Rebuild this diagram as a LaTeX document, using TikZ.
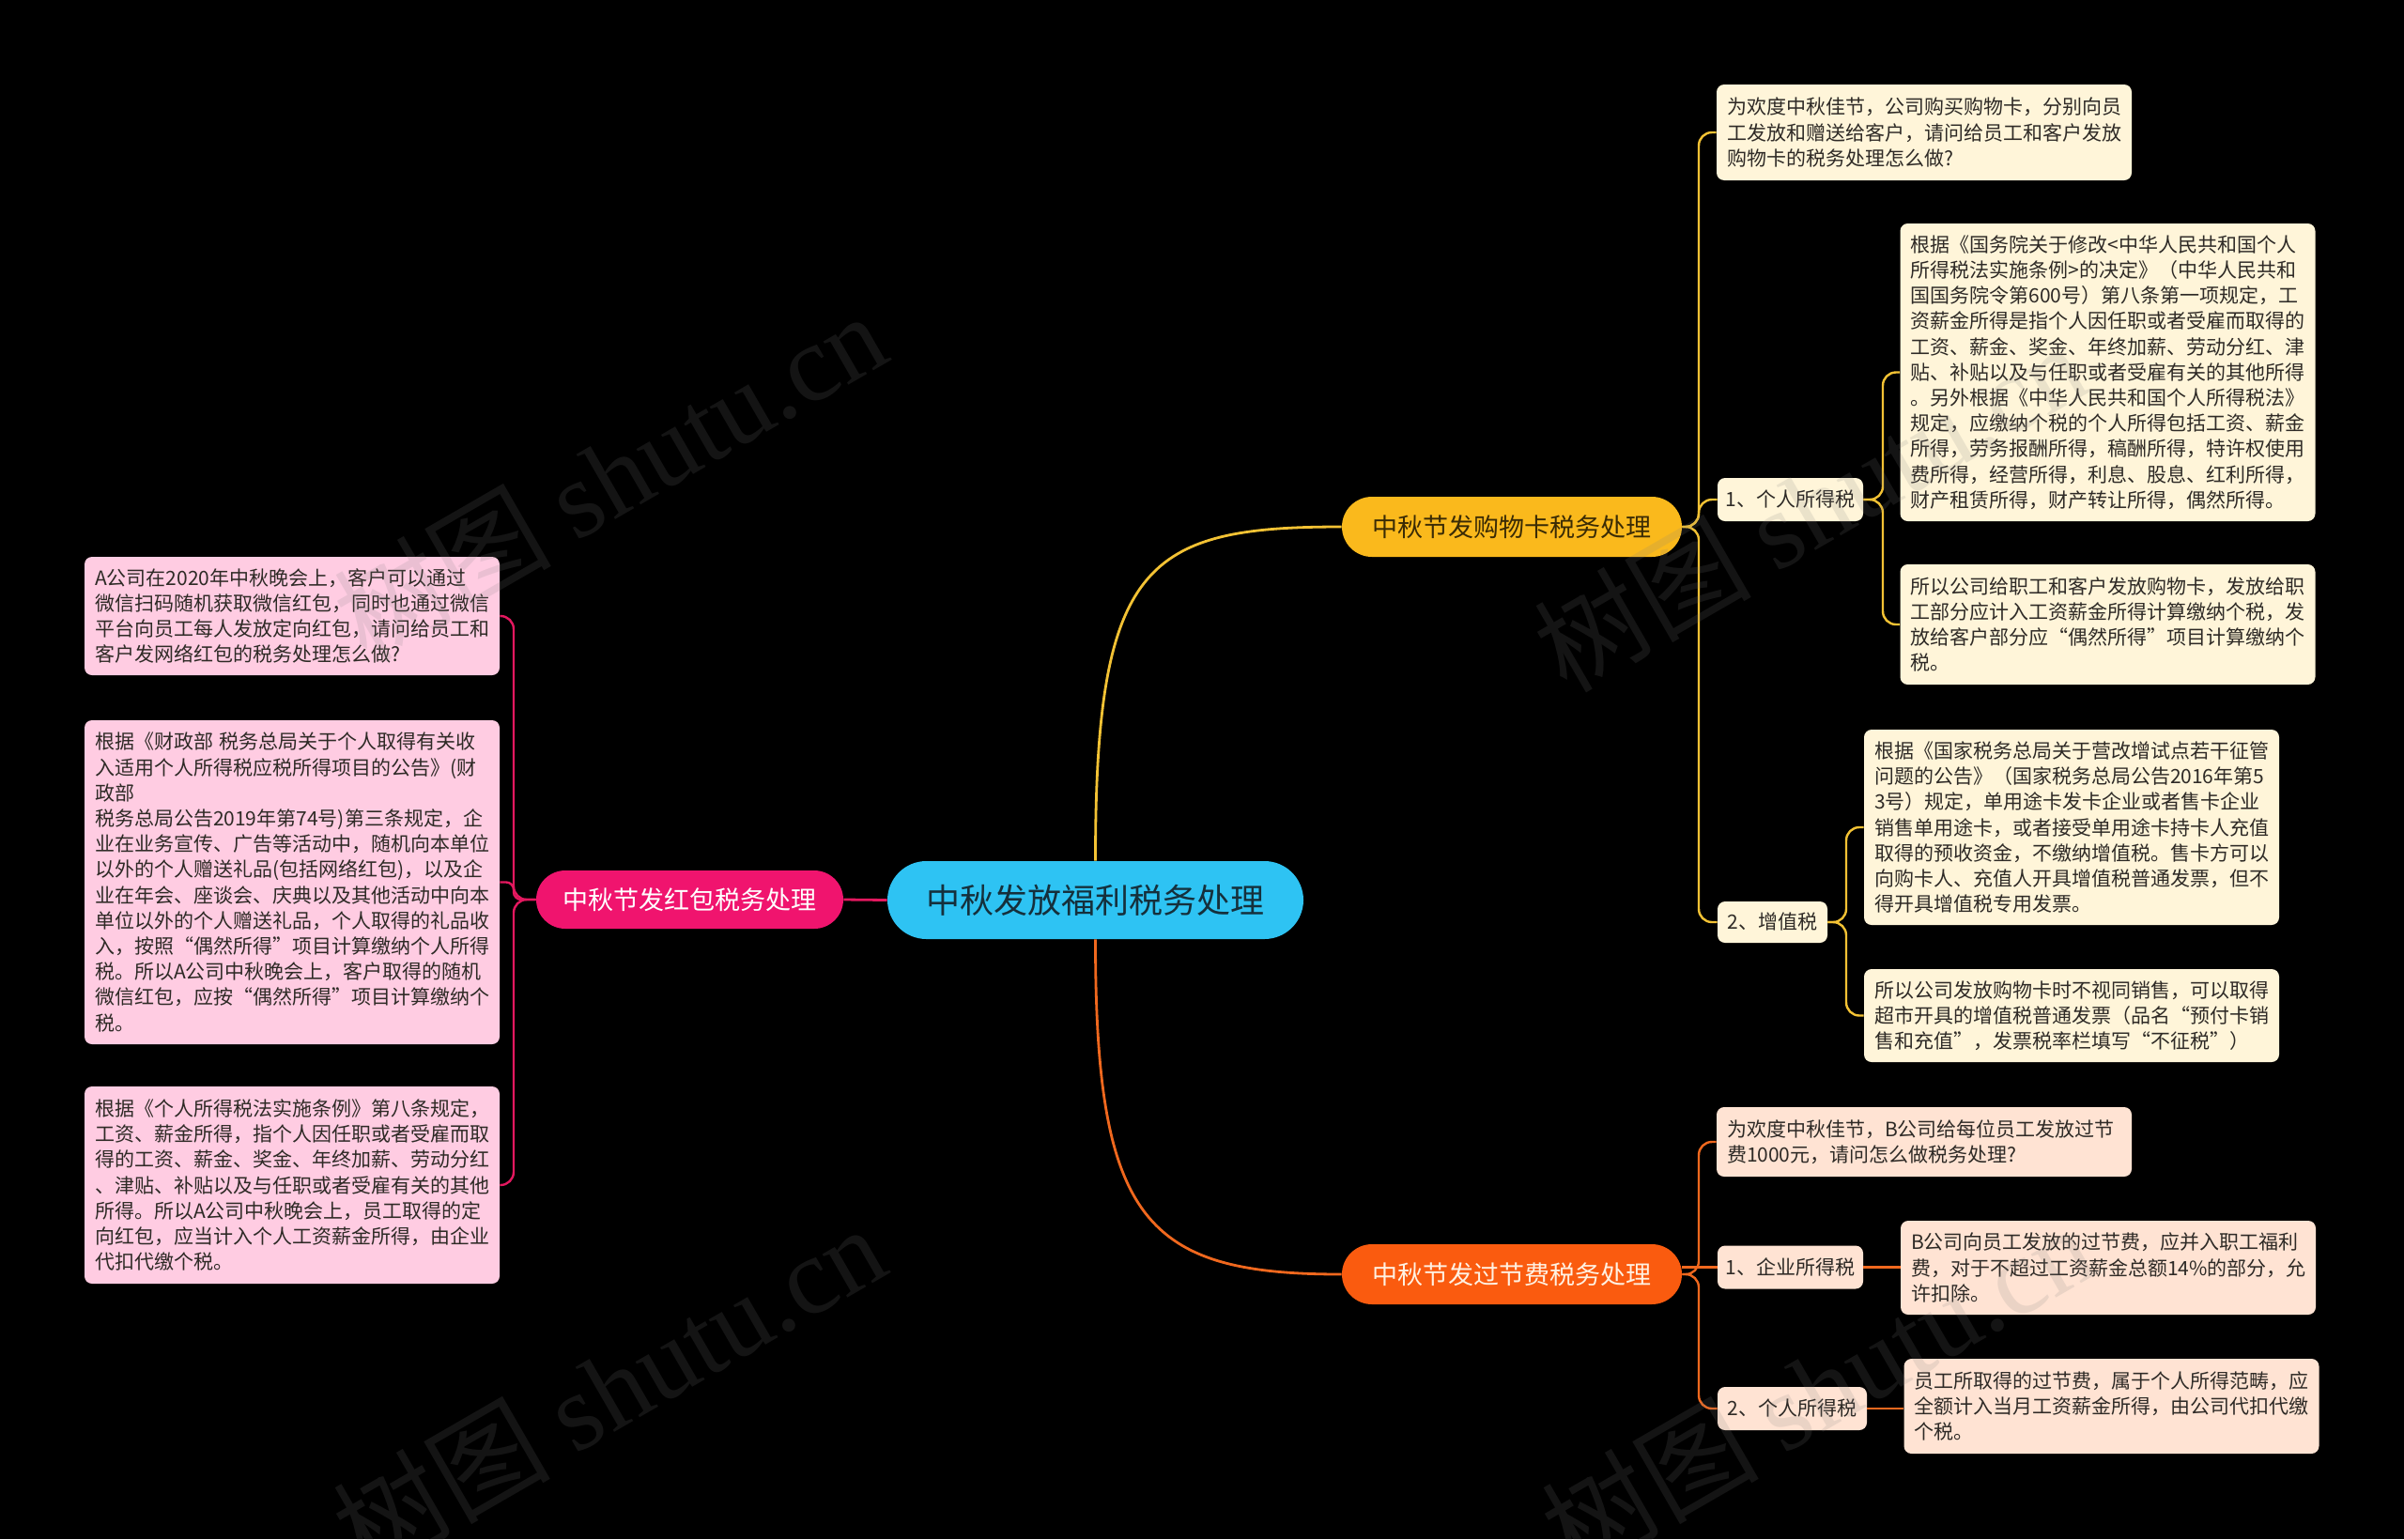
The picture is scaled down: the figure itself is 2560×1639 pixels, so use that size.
\documentclass[tikz,border=0pt]{standalone}
\usepackage{fontspec}
\setmainfont{Noto Sans CJK SC}
\newfontfamily\wmlatin{Liberation Serif}
\usetikzlibrary{calc}
\definecolor{cyanc}{HTML}{2EC3F3}
\definecolor{cdark}{HTML}{15303C}
\definecolor{yelc}{HTML}{FAB91C}
\definecolor{ydark}{HTML}{3A2B05}
\definecolor{yell}{HTML}{F3C234}
\definecolor{yelbox}{HTML}{FFF5D9}
\definecolor{orc}{HTML}{FA5B0F}
\definecolor{orl}{HTML}{F0681E}
\definecolor{orbox}{HTML}{FFE3D3}
\definecolor{otxt}{HTML}{FFF1E2}
\definecolor{pkc}{HTML}{F0146E}
\definecolor{pkl}{HTML}{E3185F}
\definecolor{pkbox}{HTML}{FFCCE2}
\definecolor{txt}{HTML}{2E2A26}
\begin{document}
\begin{tikzpicture}[x=0.5pt,y=-0.5pt,
  pill/.style={inner sep=0pt, font=\fontsize{13.5pt}{16pt}\selectfont},
  txtbox/.style={rounded corners=4pt, inner xsep=5.5pt, inner ysep=0pt, text width=210pt, align=left, text=txt, font=\fontsize{10.5pt}{13.6pt}\selectfont},
  ybox/.style={txtbox, fill=yelbox},
  obox/.style={txtbox, fill=orbox},
  pbox/.style={txtbox, fill=pkbox},
  lbl/.style={rounded corners=4pt, inner sep=0pt, text=txt, font=\fontsize{10.5pt}{13pt}\selectfont, minimum height=23pt},
  yline/.style={draw=yell, line width=1.2pt, rounded corners=7pt},
  oline/.style={draw=orl, line width=1.2pt, rounded corners=7pt},
  pline/.style={draw=pkl, line width=1.2pt, rounded corners=7pt},
  mainline/.style={line width=1.4pt},
  wm/.style={text=white!50!black, text opacity=0.16, font=\fontsize{58pt}{62pt}\selectfont, rotate=30, inner sep=0pt}
]
\useasboundingbox (0,0) rectangle (2560,1639);
\fill[black] (0,0) rectangle (2560,1639);

% main nodes
\node[pill, fill=cyanc, text=cdark, minimum width=221.5pt, minimum height=41.5pt, rounded corners=20.75pt, font=\fontsize{18pt}{20pt}\selectfont] (c) at (1166.5,958.5) {中秋发放福利税务处理};
\node[pill, fill=yelc, text=ydark, minimum width=181pt, minimum height=32pt, rounded corners=16pt] (y) at (1610,561) {中秋节发购物卡税务处理};
\node[pill, fill=orc, text=otxt, minimum width=181pt, minimum height=32pt, rounded corners=16pt] (o) at (1610,1357) {中秋节发过节费税务处理};
\node[pill, fill=pkc, text=white, minimum width=163.5pt, minimum height=31pt, rounded corners=15.5pt] (p) at (734.5,958) {中秋节发红包税务处理};

% yellow branch
\node[ybox, minimum height=51pt] (yq) at (2049,141) {为欢度中秋佳节，公司购买购物卡，分别向员\\工发放和赠送给客户，请问给员工和客户发放\\购物卡的税务处理怎么做?};
\node[lbl, fill=yelbox, minimum width=77.5pt] (y1) at (1906.5,532) {1、个人所得税};
\node[ybox, minimum height=158.5pt] (y1a) at (2244.5,396.5) {根据《国务院关于修改<中华人民共和国个人\\所得税法实施条例>的决定》（中华人民共和\\国国务院令第600号）第八条第一项规定，工\\资薪金所得是指个人因任职或者受雇而取得的\\工资、薪金、奖金、年终加薪、劳动分红、津\\贴、补贴以及与任职或者受雇有关的其他所得\\。另外根据《中华人民共和国个人所得税法》\\规定，应缴纳个税的个人所得包括工资、薪金\\所得，劳务报酬所得，稿酬所得，特许权使用\\费所得，经营所得，利息、股息、红利所得，\\财产租赁所得，财产转让所得，偶然所得。};
\node[ybox, minimum height=64pt] (y1b) at (2244.5,665) {所以公司给职工和客户发放购物卡，发放给职\\工部分应计入工资薪金所得计算缴纳个税，发\\放给客户部分应“偶然所得”项目计算缴纳个\\税。};
\node[lbl, fill=yelbox, minimum width=58.5pt, minimum height=22pt] (y2) at (1887.5,982) {2、增值税};
\node[ybox, minimum height=104pt] (y2a) at (2206,881) {根据《国家税务总局关于营改增试点若干征管\\问题的公告》（国家税务总局公告2016年第5\\3号）规定，单用途卡发卡企业或者售卡企业\\销售单用途卡，或者接受单用途卡持卡人充值\\取得的预收资金，不缴纳增值税。售卡方可以\\向购卡人、充值人开具增值税普通发票，但不\\得开具增值税专用发票。};
\node[ybox, minimum height=49.5pt] (y2b) at (2206,1081.5) {所以公司发放购物卡时不视同销售，可以取得\\超市开具的增值税普通发票（品名“预付卡销\\售和充值”，发票税率栏填写“不征税”）};

% orange branch
\node[obox, minimum height=37pt] (oq) at (2049,1216) {为欢度中秋佳节，B公司给每位员工发放过节\\费1000元，请问怎么做税务处理?};
\node[lbl, fill=orbox, minimum width=77.5pt] (o1) at (1906.5,1349.5) {1、企业所得税};
\node[obox, minimum height=50pt] (o1a) at (2245,1350) {B公司向员工发放的过节费，应并入职工福利\\费，对于不超过工资薪金总额14\%的部分，允\\许扣除。};
\node[lbl, fill=orbox, minimum width=79.5pt] (o2) at (1908.5,1500) {2、个人所得税};
\node[obox, minimum height=50.5pt] (o2a) at (2248.5,1497.5) {员工所取得的过节费，属于个人所得范畴，应\\全额计入当月工资薪金所得，由公司代扣代缴\\个税。};

% pink branch
\node[pbox, minimum height=63pt] (pq) at (311,656) {A公司在2020年中秋晚会上，客户可以通过\\微信扫码随机获取微信红包，同时也通过微信\\平台向员工每人发放定向红包，请问给员工和\\客户发网络红包的税务处理怎么做?};
\node[pbox, minimum height=172.5pt] (p1) at (311,939.5) {根据《财政部 税务总局关于个人取得有关收\\入适用个人所得税应税所得项目的公告》(财\\政部\\税务总局公告2019年第74号)第三条规定，企\\业在业务宣传、广告等活动中，随机向本单位\\以外的个人赠送礼品(包括网络红包)，以及企\\业在年会、座谈会、庆典以及其他活动中向本\\单位以外的个人赠送礼品，个人取得的礼品收\\入，按照“偶然所得”项目计算缴纳个人所得\\税。所以A公司中秋晚会上，客户取得的随机\\微信红包，应按“偶然所得”项目计算缴纳个\\税。};
\node[pbox, minimum height=105pt] (p2) at (311,1262) {根据《个人所得税法实施条例》第八条规定，\\工资、薪金所得，指个人因任职或者受雇而取\\得的工资、薪金、奖金、年终加薪、劳动分红\\、津贴、补贴以及与任职或者受雇有关的其他\\所得。所以A公司中秋晚会上，员工取得的定\\向红包，应当计入个人工资薪金所得，由企业\\代扣代缴个税。};

% bracket points
\coordinate (yb) at (1809,561);
\coordinate (y1c) at (2005,532);
\coordinate (y2c) at (1966,982);
\coordinate (ob) at (1809,1357);
\coordinate (pb) at (547,958);

% main connectors
\draw[mainline, draw=yell] (c.north) .. controls +(0,-317) and +(-209,0) .. (y.west);
\draw[mainline, draw=orl] (c.south) .. controls +(0,300) and +(-209,0) .. (o.west);
\draw[mainline, draw=pkl] (c.west) -- (p.east);

% yellow connectors
\draw[yline] (y.east) -- (yb) |- (yq.west);
\draw[yline] (y.east) -- (yb) |- (y1.west);
\draw[yline] (y.east) -- (yb) |- (y2.west);
\draw[yline] (y1.east) -- (y1c) |- (y1a.west);
\draw[yline] (y1.east) -- (y1c) |- (y1b.west);
\draw[yline] (y2.east) -- (y2c) |- (y2a.west);
\draw[yline] (y2.east) -- (y2c) |- (y2b.west);

% orange connectors
\draw[oline] (o.east) -- (ob) |- (oq.west);
\draw[oline] (o.east |- o1.west) -- (o1.west);
\draw[oline] (o.east) -- (ob) |- (o2.west);
\draw[oline] (o1.east) -- (o1.east -| o1a.west);
\draw[oline] (o2.east) -- (o2.east -| o2a.west);

% pink connectors
\draw[pline] (p.west) -- (pb) |- (pq.east);
\draw[pline, rounded corners=4pt] (p.west) -- (pb) |- (p1.east);
\draw[pline] (p.west) -- (pb) |- (p2.east);

% watermarks
\node[wm] (wm1) at (649,506) {树图 {\wmlatin shutu.cn}};
\node[wm] (wm2) at (1927,539) {树图 {\wmlatin shutu.cn}};
\node[wm] (wm3) at (648,1478) {树图 {\wmlatin shutu.cn}};
\node[wm] (wm4) at (1935,1478) {树图 {\wmlatin shutu.cn}};
\end{tikzpicture}
\end{document}
